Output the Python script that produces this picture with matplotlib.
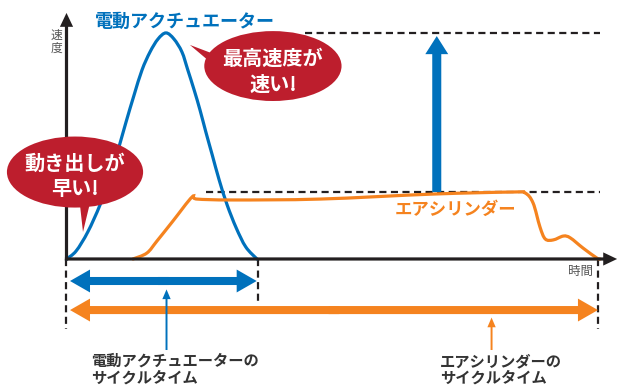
import numpy as np
import matplotlib
matplotlib.use('Agg')
import matplotlib.pyplot as plt
from matplotlib.path import Path
from matplotlib.patches import PathPatch, Ellipse, Polygon, FancyArrowPatch

plt.rcParams['font.family'] = ['Noto Sans CJK JP', 'DejaVu Sans']

# 色
BLUE = '#0071bc'
ORANGE = '#f5831f'
RED = '#bd1e2d'
INK = '#231f20'

# 電動アクチュエーターの速度（時間, 速度）
elec_t = [0.0, 0.18, 0.40, 0.63, 0.82, 0.97, 1.12, 1.27, 1.42, 1.57, 1.72, 1.87,
          2.02, 2.17, 2.28, 2.40, 2.51, 2.62, 2.74, 2.87, 3.02, 3.19, 3.37, 3.58]
elec_v = [0, 3.5, 11.9, 23.8, 36.1, 48.0, 60.4, 72.2, 83.3, 91.2, 96.9, 99.6,
          96.9, 91.2, 83.3, 74.4, 65.6, 55.9, 45.8, 34.8, 23.8, 13.7, 5.3, 0]

# エアシリンダーの速度
air_t = [1.25, 1.51, 1.70, 2.00, 2.36, 2.45, 3.13, 4.77, 6.89, 8.39,
         8.62, 8.77, 8.90, 9.00, 9.15, 9.34, 9.47, 9.71, 9.97, 10.03]
air_v = [0, 2.6, 7.9, 16.7, 27.3, 26.4, 26.0, 26.4, 28.6, 29.5,
         29.1, 24.7, 14.1, 8.8, 8.4, 10.1, 9.3, 4.8, 0.4, 0]

elec_peak = 99.5
air_peak = 29.5
elec_cycle = 3.6
air_cycle = 10.0


def smooth_path(xs, ys):
    # 点を通る滑らかな曲線（Catmull-Rom → ベジェ）
    pts = np.column_stack([xs, ys]).astype(float)
    verts = [pts[0]]
    codes = [Path.MOVETO]
    n = len(pts)
    for i in range(n - 1):
        p0 = pts[i - 1] if i > 0 else pts[i]
        p1 = pts[i]
        p2 = pts[i + 1]
        p3 = pts[i + 2] if i + 2 < n else pts[i + 1]
        verts += [p1 + (p2 - p0) / 6, p2 - (p3 - p1) / 6, p2]
        codes += [Path.CURVE4] * 3
    return Path(verts, codes)


def arrow(ax, start, end, color, tail, head_w, head_l, z=3):
    style = f'simple,tail_width={tail},head_width={head_w},head_length={head_l}'
    ax.add_patch(FancyArrowPatch(start, end, arrowstyle=style, mutation_scale=1,
                                 shrinkA=0, shrinkB=0, lw=0, color=color, zorder=z))


fig = plt.figure(figsize=(6.17, 3.87), dpi=100)
ax = fig.add_axes([0, 0, 1, 1])
ax.set_xlim(-1.25, 10.348)
ax.set_ylim(-56.4, 114.1)
ax.axis('off')

dash = dict(color=INK, lw=1.6, dashes=(3.2, 2.0), zorder=2)

# 補助線
ax.plot([4.48, 10.03], [elec_peak, elec_peak], **dash)
ax.plot([2.62, 10.03], [air_peak, air_peak], **dash)
ax.plot([0, 0], [0, -30.8], **dash)
ax.plot([elec_cycle, elec_cycle], [0, -19.4], **dash)
ax.plot([air_cycle, air_cycle], [0, -30.8], **dash)

# 軸
arrow(ax, (0, -0.7), (0, 108.4), INK, 2.3, 9.5, 10, z=4)
arrow(ax, (-0.03, 0), (10.35, 0), INK, 2.3, 9.5, 10, z=4)

# 曲線
ax.add_patch(PathPatch(smooth_path(elec_t, elec_v), fill=False, edgecolor=BLUE,
                       lw=2.3, capstyle='round', zorder=3))
ax.add_patch(PathPatch(smooth_path(air_t, air_v), fill=False, edgecolor=ORANGE,
                       lw=2.3, capstyle='round', zorder=3))

# 最高速度の差
arrow(ax, (6.96, air_peak), (6.96, 98.2), BLUE, 6.5, 16.5, 13)

# サイクルタイム
for c, y, x1 in [(BLUE, -9.7, 3.575), (ORANGE, -22.5, 9.99)]:
    mid = (0.066 + x1) / 2
    arrow(ax, (mid + 0.1, y), (0.066, y), c, 5.8, 16.5, 14.4)
    arrow(ax, (mid - 0.1, y), (x1, y), c, 5.8, 16.5, 14.4)

arrow(ax, (1.88, -40.1), (1.88, -13.4), BLUE, 1.4, 6, 7)
arrow(ax, (7.99, -40.1), (7.99, -25.8), ORANGE, 1.4, 6, 7)

# 吹き出し
ax.add_patch(Ellipse((0.16, 38.3), 2.56, 31.3, color=RED, lw=0, zorder=6))
ax.add_patch(Polygon([(0.25, 24.5), (0.44, 24.5), (0.31, 11.9)], closed=True,
                     color=RED, lw=0, zorder=6))
ax.add_patch(Ellipse((3.88, 85.0), 2.58, 30.8, color=RED, lw=0, zorder=6))
ax.add_patch(Polygon([(2.77, 90.3), (2.92, 82.4), (2.32, 94.3)], closed=True,
                     color=RED, lw=0, zorder=6))

bubble = dict(color='white', fontsize=14.5, fontweight='bold', ha='center',
              va='center', linespacing=1.3, zorder=7)
ax.text(0.16, 36.6, '動き出しが\n早い!', **bubble)
ax.text(3.88, 82.8, '最高速度が\n速い!', **bubble)

# ラベル
ax.text(2.23, 104.8, '電動アクチュエーター', color=BLUE, fontsize=13,
        fontweight='bold', ha='center', va='center')
ax.text(7.32, 21.6, 'エアシリンダー', color=ORANGE, fontsize=12.5,
        fontweight='bold', ha='center', va='center')
ax.text(-0.197, 95.6, '速\n度', color='#555555', fontsize=8.5, ha='center',
        va='center', linespacing=1.0)
ax.text(9.90, -5.7, '時間', color='#555555', fontsize=9, ha='right', va='center')

foot = dict(color='#333333', fontsize=11, fontweight='bold', ha='left',
            va='top', linespacing=1.08)
ax.text(0.47, -41.4, '電動アクチュエーターの\nサイクルタイム', **foot)
ax.text(7.02, -41.4, 'エアシリンダーの\nサイクルタイム', **foot)

fig.savefig('out.png', dpi=100)
